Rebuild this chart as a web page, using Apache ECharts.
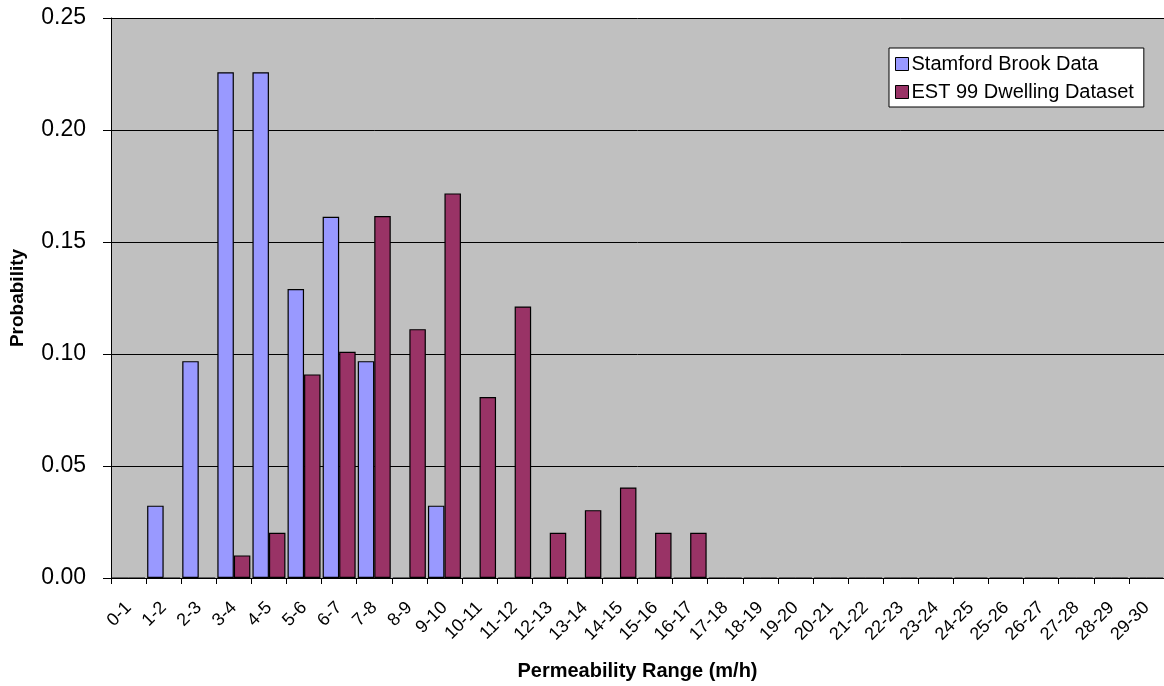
<!DOCTYPE html>
<html>
<head>
<meta charset="utf-8">
<title>Permeability Range Probability</title>
<script src="https://cdn.jsdelivr.net/npm/echarts@6/dist/echarts.min.js"></script>
<style>
  html, body { margin: 0; padding: 0; background: #ffffff; }
  #chart { width: 1164px; height: 686px; }
</style>
</head>
<body>
<div id="chart"></div>
<script>
// Permeability ranges (m/h), one bin per metre-per-hour
const categories = [
  '0-1', '1-2', '2-3', '3-4', '4-5', '5-6', '6-7', '7-8', '8-9', '9-10',
  '10-11', '11-12', '12-13', '13-14', '14-15', '15-16', '16-17', '17-18', '18-19', '19-20',
  '20-21', '21-22', '22-23', '23-24', '24-25', '25-26', '26-27', '27-28', '28-29', '29-30'
];

// Probability of each range for the Stamford Brook measurements
const stamfordBrook = [
  0, 0.0323, 0.0968, 0.2258, 0.2258, 0.1290, 0.1613, 0.0968, 0, 0.0323,
  0, 0, 0, 0, 0, 0, 0, 0, 0, 0,
  0, 0, 0, 0, 0, 0, 0, 0, 0, 0
];

// Probability of each range for the EST 99 dwelling dataset
const est99 = [
  0, 0, 0, 0.0101, 0.0202, 0.0909, 0.1010, 0.1616, 0.1111, 0.1717,
  0.0808, 0.1212, 0.0202, 0.0303, 0.0404, 0.0202, 0.0202, 0, 0, 0,
  0, 0, 0, 0, 0, 0, 0, 0, 0, 0
];

const yTicks = { min: 0, max: 0.25, interval: 0.05 };

const FONT = '"Liberation Sans", Arial, sans-serif';

const chart = echarts.init(document.getElementById('chart'), null, { renderer: 'canvas' });

chart.setOption({
  animation: false,
  backgroundColor: '#ffffff',
  textStyle: { fontFamily: FONT, color: '#000000' },
  grid: {
    left: 110,
    right: 0,
    top: 18,
    bottom: 107,
    show: true,
    backgroundColor: '#C0C0C0',
    borderWidth: 0
  },
  legend: {
    left: 889,
    top: 48,
    orient: 'vertical',
    backgroundColor: '#ffffff',
    borderColor: '#000000',
    borderWidth: 1,
    borderRadius: 0,
    padding: [6, 10, 5, 6],
    itemWidth: 13,
    itemHeight: 13,
    itemGap: 8,
    icon: 'rect',
    itemStyle: { borderColor: '#000000', borderWidth: 1 },
    textStyle: { fontFamily: FONT, fontSize: 20, color: '#000000', padding: [0, 0, 0, -2] },
    data: ['Stamford Brook Data', 'EST 99 Dwelling Dataset']
  },
  xAxis: {
    type: 'category',
    data: categories,
    boundaryGap: true,
    name: 'Permeability Range (m/h)',
    nameLocation: 'middle',
    nameGap: 83,
    nameTextStyle: { fontFamily: FONT, fontSize: 20, fontWeight: 'bold', color: '#000000' },
    axisLine: { show: true, lineStyle: { color: '#000000', width: 1 } },
    axisTick: { show: true, inside: false, length: 6, alignWithLabel: false, lineStyle: { color: '#000000' } },
    axisLabel: {
      interval: 0,
      rotate: 45,
      margin: 27,
      fontFamily: FONT,
      fontSize: 18,
      color: '#000000'
    },
    splitLine: { show: false }
  },
  yAxis: {
    type: 'value',
    min: yTicks.min,
    max: yTicks.max,
    interval: yTicks.interval,
    name: 'Probability',
    nameLocation: 'middle',
    nameGap: 84,
    nameTextStyle: { fontFamily: FONT, fontSize: 19, fontWeight: 'bold', color: '#000000' },
    axisLine: { show: true, lineStyle: { color: '#000000', width: 1 } },
    axisTick: { show: true, inside: false, length: 8, lineStyle: { color: '#000000' } },
    axisLabel: {
      margin: 25,
      fontFamily: FONT,
      fontSize: 23,
      color: '#000000',
      formatter: v => v.toFixed(2)
    },
    splitLine: { show: true, lineStyle: { color: '#000000', width: 1, type: 'solid' } }
  },
  series: [
    {
      name: 'Stamford Brook Data',
      type: 'bar',
      data: stamfordBrook,
      barGap: '0%',
      barCategoryGap: '6%',
      itemStyle: { color: '#9999FF', borderColor: '#000000', borderWidth: 1.2 }
    },
    {
      name: 'EST 99 Dwelling Dataset',
      type: 'bar',
      data: est99,
      barGap: '0%',
      barCategoryGap: '6%',
      itemStyle: { color: '#993366', borderColor: '#000000', borderWidth: 1.2 }
    }
  ]
});
</script>
</body>
</html>
